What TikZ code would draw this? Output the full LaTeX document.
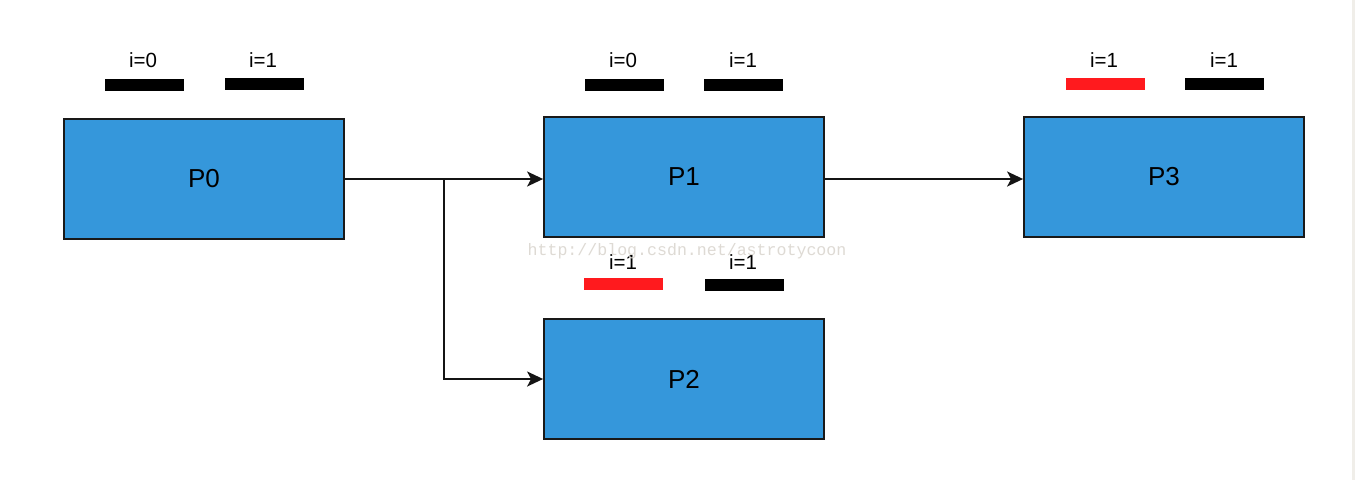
\documentclass[tikz,border=0pt]{standalone}
\usepackage{fontspec}
\setmainfont{Liberation Sans}
\newfontfamily\wmfont{Liberation Mono}
\usetikzlibrary{arrows.meta}
\definecolor{boxblue}{RGB}{53,151,219}
\definecolor{barred}{RGB}{255,26,30}
\definecolor{wmgray}{RGB}{222,218,212}
\definecolor{edgegray}{RGB}{240,238,233}
\tikzset{
  proc/.style={draw=black!90, line width=1.8pt, fill=boxblue, minimum width=280pt, minimum height=120pt, inner sep=0pt, font=\fontsize{26}{30}\selectfont},
  lbl/.style={inner sep=0pt, font=\fontsize{20.5}{24}\selectfont},
  conn/.style={line width=1.8pt, draw=black!92},
  arr/.style={conn, -{Stealth[length=16pt,width=15pt,inset=4pt]}}
}
\begin{document}
\begin{tikzpicture}[x=1pt,y=-1pt]
\useasboundingbox (0,0) rectangle (1355,480);
\fill[white] (0,0) rectangle (1355,480);
\fill[edgegray] (1352,0) rectangle (1355,480);
% boxes
\node[proc] (P0) at (204,179) {P0};
\node[proc] (P1) at (684,177) {P1};
\node[proc] (P2) at (684,379) {P2};
\node[proc] (P3) at (1164,177) {P3};
% bars and labels, P0
\fill[black] (105,79) rectangle (184,91);
\fill[black] (225,78) rectangle (304,90);
\node[lbl] (l00) at (143,60) {i=0};
\node[lbl] (l01) at (263,60) {i=1};
% P1
\fill[black] (585,79) rectangle (664,91);
\fill[black] (704,79) rectangle (783,91);
\node[lbl] (l10) at (623,60) {i=0};
\node[lbl] (l11) at (743,60) {i=1};
% P3
\fill[barred] (1066,78) rectangle (1145,90);
\fill[black] (1185,78) rectangle (1264,90);
\node[lbl] (l30) at (1104,60) {i=1};
\node[lbl] (l31) at (1224,60) {i=1};
% P2
\fill[barred] (584,278) rectangle (663,290);
\fill[black] (705,279) rectangle (784,291);
\node[lbl] (l20) at (623,262) {i=1};
\node[lbl] (l21) at (743,262) {i=1};
% connectors
\coordinate (s0) at (344,179);
\coordinate (br) at (444,179);
\coordinate (s1) at (824,179);
\draw[conn] (P0.east |- s0) -- (br);
\draw[arr] (br) -- (P1.west |- s0);
\draw[arr] (br) |- (P2.west);
\draw[arr] (P1.east |- s1) -- (P3.west |- s1);
% watermark
\node[inner sep=0pt, text=wmgray, font=\wmfont\fontsize{16.6}{20}\selectfont] (wm) at (687,251) {http://blog.csdn.net/astrotycoon};
\end{tikzpicture}
\end{document}
